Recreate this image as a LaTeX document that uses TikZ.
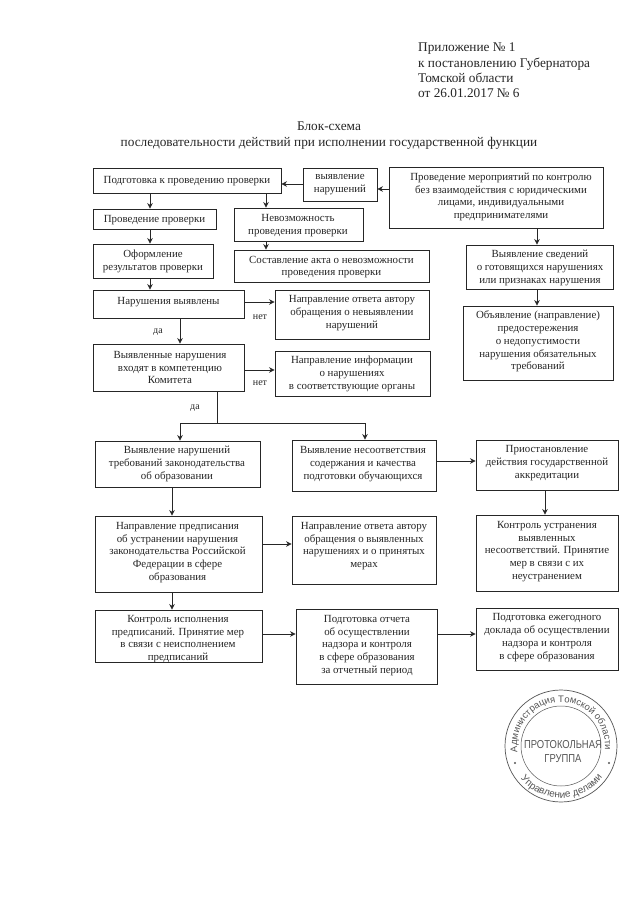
\documentclass[tikz,border=0pt]{standalone}
\usepackage{fontspec}
\setmainfont{Liberation Serif}
\newfontfamily\stampfont{Liberation Sans}
\newfontfamily\stampnarrow[FakeStretch=0.82]{Liberation Sans}
\usetikzlibrary{arrows.meta,decorations.text}
\definecolor{ink}{HTML}{262626}
\definecolor{stampink}{HTML}{555555}
\tikzset{
  boxframe/.style={draw=ink,line width=0.9pt,inner sep=0pt,rectangle},
  boxtext/.style={text=ink,align=center,inner sep=0pt,font=\fontsize{10.9}{12.8}\selectfont},
  cond/.style={text=ink,inner sep=0pt,font=\fontsize{10}{12}\selectfont},
  head/.style={text=ink,inner sep=0pt,font=\fontsize{13.3}{15.2}\selectfont},
  link/.style={draw=ink,line width=0.8pt,-{Stealth[length=5.5pt,width=5.5pt]}},
  plainlink/.style={draw=ink,line width=0.8pt}
}
\newcommand{\bx}[8]{%
  \pgfmathsetmacro{\bw}{#4-#2}\pgfmathsetmacro{\bh}{#5-#3}%
  \pgfmathsetmacro{\bcx}{(#2+#4)/2}\pgfmathsetmacro{\bcy}{(#3+#5)/2}%
  \node[boxframe,minimum width=\bw pt,minimum height=\bh pt] (#1) at (\bcx,\bcy) {};%
  \node[boxtext] (#1-t) at (#6,#7) {#8};%
}
\begin{document}
\begin{tikzpicture}[x=1pt,y=-1pt]
\useasboundingbox (0,0) rectangle (640,905);
\fill[white] (0,0) rectangle (640,905);
% header
\node[head,align=left,anchor=north west] (app) at (418,43) {Приложение № 1\\к постановлению Губернатора\\Томской области\\от 26.01.2017 № 6};
\node[head,align=center,font=\fontsize{13.3}{16}\selectfont] (title) at (329,136) {Блок-схема\\последовательности действий при исполнении государственной функции};
% boxes
\bx{prep}{93}{168}{281}{193}{187}{181}{Подготовка к проведению проверки}
\bx{find}{303}{168}{377}{201}{340}{184.5}{выявление\\нарушений}
\bx{meas}{389}{167}{603}{228}{501}{197}{Проведение мероприятий по контролю\\без взаимодействия с юридическими\\лицами, индивидуальными\\предпринимателями}
\bx{check}{93}{209}{216}{229}{154.5}{220}{Проведение проверки}
\bx{imposs}{234}{208}{363}{241}{298}{225.5}{Невозможность\\проведения проверки}
\bx{form}{93}{244}{213}{278}{153}{261.5}{Оформление\\результатов проверки}
\bx{act}{234}{250}{429}{282}{331.5}{267}{Составление акта о невозможности\\проведения  проверки}
\bx{viol}{93}{290}{244}{318}{168.5}{302}{Нарушения выявлены}
\bx{reply}{275}{290}{429}{339}{352}{313}{Направление ответа автору\\обращения о невыявлении\\нарушений}
\bx{comp}{93}{344}{244}{391}{170}{367.5}{Выявленные нарушения\\входят в компетенцию\\Комитета}
\bx{inform}{275}{351}{430}{396}{352}{374}{Направление информации\\о нарушениях\\в соответствующие органы}
\bx{info}{466}{245}{613}{289}{540}{268}{Выявление сведений\\о готовящихся нарушениях\\или признаках нарушения}
\bx{warn}{463}{306}{613}{380}{538}{341.5}{Объявление (направление)\\предостережения\\о недопустимости\\нарушения обязательных\\требований}
\bx{law}{95}{441}{260}{487}{177}{464}{Выявление нарушений\\требований законодательства\\об образовании}
\bx{mism}{292}{440}{436}{491}{363}{464}{Выявление несоответствия\\содержания и качества\\подготовки обучающихся}
\bx{susp}{476}{440}{618}{490}{547}{463}{Приостановление\\действия государственной\\аккредитации}
\bx{order}{95}{516}{262}{592}{177.5}{552.5}{Направление предписания\\об устранении нарушения\\законодательства Российской\\Федерации в сфере\\образования}
\bx{reply2}{292}{516}{436}{584}{364}{546}{Направление ответа автору\\обращения о выявленных\\нарушениях и о принятых\\мерах}
\bx{ctrl2}{476}{515}{618}{591}{547}{551.5}{Контроль устранения\\выявленных\\несоответствий. Принятие\\мер в связи с их\\неустранением}
\bx{ctrl1}{95}{610}{262}{662}{178}{639}{Контроль исполнения\\предписаний. Принятие мер\\в связи с неисполнением\\предписаний}
\bx{report}{296}{609}{437}{684}{367}{645.5}{Подготовка отчета\\об осуществлении\\надзора и контроля\\в сфере образования\\за отчетный период}
\bx{annual}{476}{608}{618}{670}{547}{637.5}{Подготовка ежегодного\\доклада об осуществлении\\надзора и контроля\\в сфере образования}
% guide coordinates
\coordinate (xa) at (150,0);
\coordinate (xb) at (266,0);
\coordinate (xc) at (180,0);
\coordinate (xd) at (537,0);
\coordinate (xe) at (172,0);
\coordinate (xf) at (545,0);
\coordinate (xg) at (217,0);
\coordinate (xh) at (365,0);
\coordinate (ya) at (0,184);
\coordinate (yb) at (0,189);
\coordinate (yc) at (0,302);
\coordinate (yd) at (0,370);
\coordinate (ye) at (0,544);
\coordinate (yf) at (0,634);
\coordinate (yg) at (0,461);
\coordinate (yh) at (0,423);
\coordinate (split) at (xg |- yh);
% connectors
\draw[link] (find.west |- ya) -- (prep.east |- ya);
\draw[link] (meas.west |- yb) -- (find.east |- yb);
\draw[link] (prep.south -| xa) -- (check.north -| xa);
\draw[link] (prep.south -| xb) -- (imposs.north -| xb);
\draw[link] (check.south -| xa) -- (form.north -| xa);
\draw[link] (form.south -| xa) -- (viol.north -| xa);
\draw[link] (imposs.south -| xb) -- (act.north -| xb);
\draw[link] (viol.east |- yc) -- (reply.west |- yc);
\draw[link] (viol.south -| xc) -- (comp.north -| xc);
\draw[link] (comp.east |- yd) -- (inform.west |- yd);
\draw[link] (meas.south -| xd) -- (info.north -| xd);
\draw[link] (info.south -| xd) -- (warn.north -| xd);
\draw[plainlink] (comp.south -| xg) -- (split);
\draw[link] (split) -| (law.north -| xc);
\draw[link] (split) -| (mism.north -| xh);
\draw[link] (law.south -| xe) -- (order.north -| xe);
\draw[link] (order.south -| xe) -- (ctrl1.north -| xe);
\draw[link] (order.east |- ye) -- (reply2.west |- ye);
\draw[link] (ctrl1.east |- yf) -- (report.west |- yf);
\draw[link] (report.east |- yf) -- (annual.west |- yf);
\draw[link] (mism.east |- yg) -- (susp.west |- yg);
\draw[link] (susp.south -| xf) -- (ctrl2.north -| xf);
% condition labels
\node[cond] (no1) at (260,317) {нет};
\node[cond] (yes1) at (158,332) {да};
\node[cond] (no2) at (260,383) {нет};
\node[cond] (yes2) at (195,408) {да};
% stamp
\begin{scope}[shift={(561,746)},y=1pt]
\draw[stampink,line width=0.7pt] (0,0) circle[radius=56];
\draw[stampink,line width=0.5pt] (0,0) circle[radius=40];
\fill[stampink] (-46,-17) circle[radius=1.2];
\fill[stampink] (48,-17) circle[radius=1.2];
\node[inner sep=0pt,text=stampink,align=center,font=\stampnarrow\fontsize{11.5}{14}\selectfont] (stampmid) at (2,-6) {ПРОТОКОЛЬНАЯ\\ГРУППА};
\path[postaction={decorate,decoration={text along path,text align={fit to path},
  text={|\stampfont\fontsize{9.5}{11}\selectfont\color{stampink}|Администрация Томской области}}}]
  (188:44) arc[start angle=188,end angle=-2,radius=44];
\path[postaction={decorate,decoration={text along path,text align=center,
  text={|\stampfont\fontsize{10}{12}\selectfont\color{stampink}|Управление делами}}}]
  (212:52) arc[start angle=212,end angle=330,radius=52];
\end{scope}
\end{tikzpicture}
\end{document}
